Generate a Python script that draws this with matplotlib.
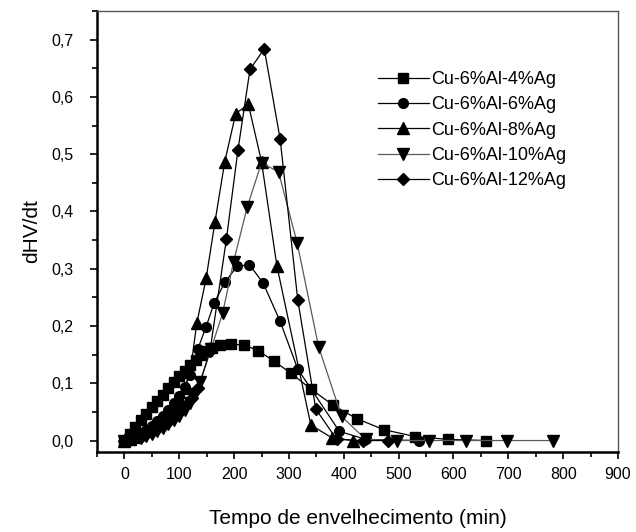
import matplotlib
matplotlib.use("Agg")
import matplotlib.pyplot as plt
from matplotlib.ticker import MultipleLocator, FuncFormatter

plt.rcParams['font.family'] = ['Liberation Sans', 'DejaVu Sans']

# ---- data ----
x_4 = [0, 10, 20, 30, 40, 50, 60, 70, 80, 90, 100, 110, 120, 130, 140, 150, 160,
       175, 195, 218, 244, 272, 303, 340, 380, 424, 473, 530, 590, 659]
y_4 = [0.0, 0.012, 0.024, 0.036, 0.047, 0.058, 0.069, 0.080, 0.091, 0.102, 0.112, 0.122,
       0.132, 0.141, 0.150, 0.157, 0.162, 0.166, 0.168, 0.167, 0.157, 0.139, 0.118, 0.090,
       0.062, 0.038, 0.019, 0.007, 0.002, 0.0]

x_6 = [0, 10, 20, 30, 40, 50, 60, 70, 80, 90, 100, 110, 120, 134, 149, 164, 183, 205,
       228, 253, 284, 316, 392, 440, 538]
y_6 = [0.0, 0.004, 0.008, 0.013, 0.019, 0.026, 0.034, 0.043, 0.053, 0.065, 0.078, 0.094,
       0.115, 0.160, 0.199, 0.241, 0.276, 0.304, 0.307, 0.275, 0.208, 0.125, 0.016, 0.002, 0.0]

x_8 = [0, 10, 20, 30, 40, 50, 60, 70, 80, 90, 100, 110, 120, 132, 149, 165, 183, 203,
       226, 250, 278, 340, 378, 417]
y_8 = [0.0, 0.003, 0.007, 0.011, 0.016, 0.022, 0.029, 0.038, 0.048, 0.060, 0.074, 0.092,
       0.120, 0.205, 0.283, 0.381, 0.487, 0.571, 0.587, 0.487, 0.305, 0.027, 0.005, 0.0]

x_10 = [0, 10, 20, 30, 40, 50, 60, 70, 80, 90, 100, 110, 120, 129, 138, 158, 179, 199,
        224, 250, 281, 315, 354, 396, 440, 497, 555, 623, 698, 781]
y_10 = [0.0, 0.001, 0.003, 0.005, 0.008, 0.012, 0.017, 0.022, 0.028, 0.035, 0.043, 0.053,
        0.066, 0.082, 0.103, 0.160, 0.222, 0.312, 0.408, 0.485, 0.469, 0.345, 0.164, 0.042,
        0.002, 0.0, 0.0, 0.0, 0.0, 0.0]

x_12 = [0, 10, 20, 30, 40, 50, 60, 70, 80, 90, 100, 110, 123, 135, 156, 186, 207, 229,
        255, 284, 316, 349, 387, 435, 481]
y_12 = [0.0, 0.002, 0.004, 0.007, 0.011, 0.015, 0.020, 0.026, 0.033, 0.041, 0.050, 0.061,
        0.075, 0.092, 0.156, 0.352, 0.507, 0.648, 0.684, 0.526, 0.246, 0.055, 0.002, 0.0, 0.0]

labels = ['Cu-6%Al-4%Ag', 'Cu-6%Al-6%Ag', 'Cu-6%Al-8%Ag', 'Cu-6%Al-10%Ag', 'Cu-6%Al-12%Ag']
x_ticks = [0, 100, 200, 300, 400, 500, 600, 700, 800, 900]
y_ticks = [0.0, 0.1, 0.2, 0.3, 0.4, 0.5, 0.6, 0.7]

fig = plt.figure(figsize=(6.36, 5.32), dpi=100)
ax = fig.add_axes([0.1525, 0.1504, 0.8192, 0.8289])

series = [(x_4, y_4, 's', 6.5, 'black'),
          (x_6, y_6, 'o', 7, 'black'),
          (x_8, y_8, '^', 8, 'black'),
          (x_10, y_10, 'v', 8, '#5a5a5a'),
          (x_12, y_12, 'D', 6, 'black')]
handles = []
for (xs, ys, m, ms, lc), lab in zip(series, labels):
    h, = ax.plot(xs, ys, color=lc, lw=0.9, marker=m, markersize=ms,
                 markerfacecolor='black', markeredgecolor='black', label=lab)
    handles.append(h)

ax.set_xlim(-50, 900)
ax.set_ylim(-0.02, 0.75)
ax.set_xticks(x_ticks)
ax.set_yticks(y_ticks)
ax.xaxis.set_minor_locator(MultipleLocator(50))
ax.yaxis.set_minor_locator(MultipleLocator(0.05))
ax.yaxis.set_major_formatter(FuncFormatter(lambda v, p: f"{v:.1f}".replace('.', ',')))
ax.tick_params(which='major', direction='out', length=5, width=1.2, labelsize=11.5,
               top=False, right=False)
ax.tick_params(axis='y', which='major', pad=12)
ax.tick_params(axis='x', which='major', pad=6)
ax.tick_params(which='minor', direction='out', length=3.5, width=1.2, top=False, right=False)
for s in ['left', 'bottom']:
    ax.spines[s].set_linewidth(1.8)
for s in ['top', 'right']:
    ax.spines[s].set_linewidth(1.0)
    ax.spines[s].set_color('#555555')

ax.set_xlabel('Tempo de envelhecimento (min)', fontsize=15, labelpad=19)
ax.set_ylabel('dHV/dt', fontsize=15, labelpad=7)

fig.legend(handles=handles, loc='upper left', bbox_to_anchor=(378/636, 1-71/532),
           frameon=False, fontsize=13, handlelength=2.8, handletextpad=0.15,
           labelspacing=0.46, borderaxespad=0, borderpad=0)

fig.savefig('out.png', dpi=100)
